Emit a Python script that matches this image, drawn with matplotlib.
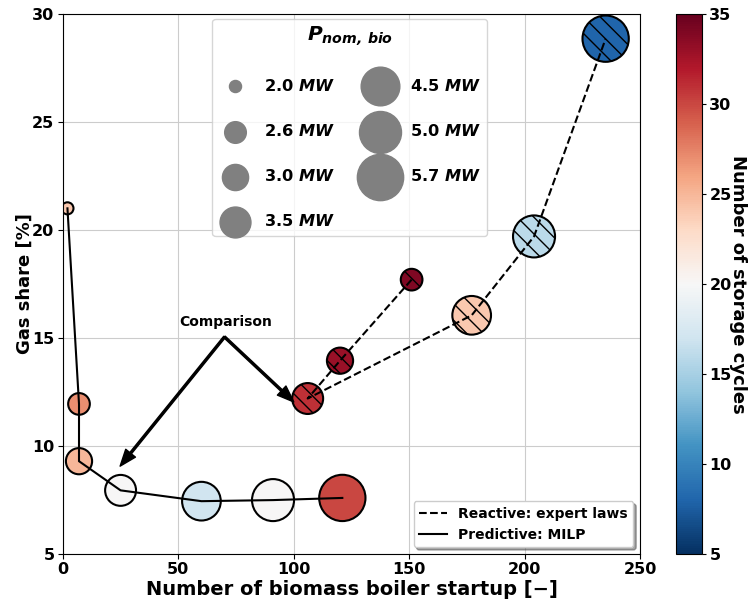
import numpy as np
import matplotlib
matplotlib.use("Agg")
import matplotlib.pyplot as plt
from matplotlib.lines import Line2D

plt.rcParams["font.weight"] = "bold"
plt.rcParams["axes.labelweight"] = "bold"

# Predictive (MILP) results
pred_startups = [2, 7, 7, 25, 60, 91, 121]
pred_gas = [21.0, 11.95, 9.3, 7.95, 7.45, 7.5, 7.6]
pred_cycles = [24, 27, 25, 20, 17, 20, 30]
pred_power = [2.0, 2.6, 3.0, 3.5, 4.5, 5.0, 5.7]

# Reactive (expert laws) results
react_startups = [151, 120, 106, 177, 204, 235]
react_gas = [17.7, 13.95, 12.2, 16.05, 19.7, 28.85]
react_cycles = [34, 33, 31, 24, 16, 8]
react_power = [2.6, 3.0, 3.5, 4.5, 5.0, 5.7]

legend_power = [2.0, 2.6, 3.0, 3.5, 4.5, 5.0, 5.7]


def marker_size(p):
    # scatter area grows linearly with nominal power
    return 280 * (np.asarray(p) - 1.73)


fig = plt.figure(figsize=(7.48, 6.01), dpi=100)
ax = fig.add_axes([0.084, 0.078, 0.772, 0.899])
cax = fig.add_axes([0.904, 0.078, 0.035, 0.899])

sc = ax.scatter(pred_startups, pred_gas, s=marker_size(pred_power), c=pred_cycles,
                cmap="RdBu_r", vmin=5, vmax=35, edgecolors="black", linewidths=1.5)
ax.scatter(react_startups, react_gas, s=marker_size(react_power), c=react_cycles,
           cmap="RdBu_r", vmin=5, vmax=35, edgecolors="black", linewidths=1.5,
           hatch="\\\\")

ax.plot(react_startups, react_gas, color="black", linestyle="--", linewidth=1.5)
ax.plot(pred_startups, pred_gas, color="black", linestyle="-", linewidth=1.5)

# Comparison arrows
ax.text(70.5, 15.75, "Comparison", ha="center", va="center", fontsize=10, fontweight="bold")
for target in [(24.8, 9.07), (100, 12.04)]:
    ax.annotate("", xy=target, xytext=(70, 15.05),
                arrowprops=dict(facecolor="black", edgecolor="black", width=1.5,
                                headwidth=9, headlength=12, shrink=0))

ax.set_xlim(0, 250)
ax.set_ylim(5, 30)
ax.set_xticks(np.arange(0, 251, 50))
ax.set_yticks(np.arange(5, 31, 5))
ax.tick_params(labelsize=11.5, pad=2.5)
ax.grid(True, color="#cccccc", linewidth=0.8)
ax.set_axisbelow(True)
ax.set_xlabel("Number of biomass boiler startup [\u2212]", fontsize=14, fontweight="bold",
              labelpad=2)
ax.set_ylabel("Gas share [%]", fontsize=13, fontweight="bold", labelpad=-1)

# Size legend
size_handles = [ax.scatter([], [], s=marker_size(p), color="gray") for p in legend_power]
size_labels = [r"%.1f $\mathbfit{MW}$" % p for p in legend_power]
leg1 = ax.legend(size_handles, size_labels, ncol=2, loc="upper center",
                 bbox_to_anchor=(0.497, 1.006), labelspacing=1.8, columnspacing=1.75,
                 prop={"size": 11.7, "weight": "bold"}, scatterpoints=1,
                 title=r"$\mathbfit{P}_{\mathbfit{nom,\,bio}}$", title_fontsize=14.5)
ax.add_artist(leg1)

line_handles = [Line2D([], [], color="black", linestyle="--", linewidth=1.5),
                Line2D([], [], color="black", linestyle="-", linewidth=1.5)]
ax.legend(line_handles, ["Reactive: expert laws", "Predictive: MILP"], loc="lower right",
          prop={"size": 10, "weight": "bold"}, shadow=True)

cb = fig.colorbar(sc, cax=cax)
cb.set_ticks(np.arange(5, 36, 5))
cb.ax.tick_params(labelsize=11.5, length=3, pad=2)
cb.set_label("Number of storage cycles", rotation=270, fontsize=13, fontweight="bold",
             labelpad=11)

fig.savefig("out.png", dpi=100)
